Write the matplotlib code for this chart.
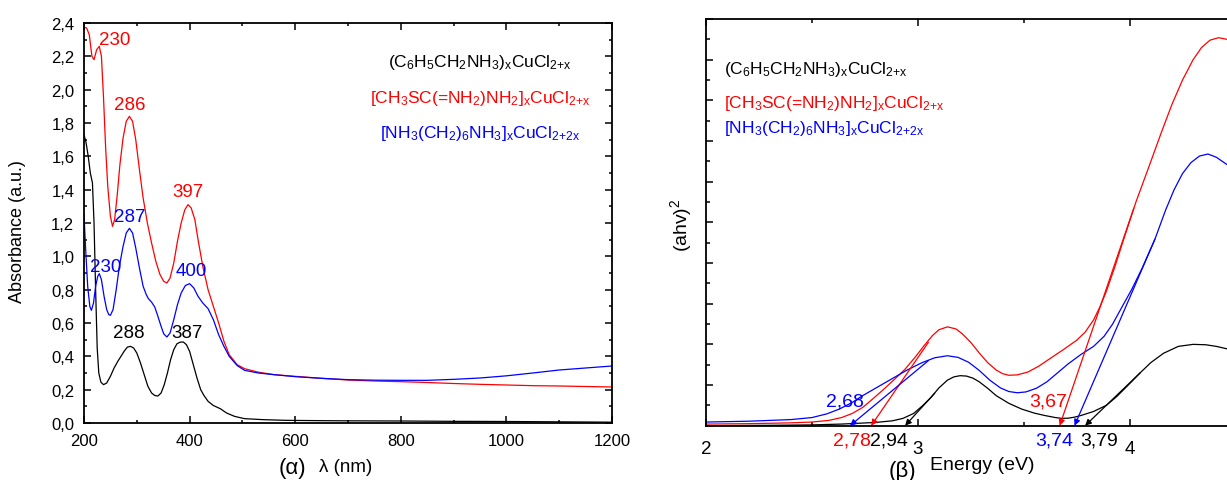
import matplotlib
matplotlib.use("Agg")
import matplotlib.pyplot as plt
from matplotlib.ticker import MultipleLocator, FuncFormatter

plt.rcParams['font.family'] = ['Liberation Sans', 'DejaVu Sans']
plt.rcParams['mathtext.default'] = 'regular'

# ---- (a) absorbance spectra ----
wl_red = [200, 205, 210, 215, 219, 224, 229, 233, 237, 241, 245, 250, 254, 258, 263, 268,
          274, 280, 286, 292, 298, 305, 312, 320, 328, 336, 344, 351, 357, 363, 370, 377,
          384, 391, 397, 403, 410, 416, 425, 435, 445, 455, 465, 475, 490, 504, 530, 560,
          600, 650, 700, 750, 800, 850, 900, 950, 1000, 1050, 1100, 1150, 1200]
abs_red = [2.375, 2.37, 2.33, 2.2, 2.18, 2.24, 2.26, 2.2, 1.95, 1.65, 1.42, 1.24, 1.18, 1.22,
           1.37, 1.55, 1.71, 1.81, 1.84, 1.81, 1.70, 1.52, 1.35, 1.2, 1.08, 0.97, 0.89, 0.85,
           0.84, 0.87, 0.96, 1.09, 1.2, 1.28, 1.31, 1.29, 1.22, 1.1, 0.94, 0.8, 0.7, 0.6, 0.49,
           0.41, 0.35, 0.326, 0.305, 0.29, 0.28, 0.268, 0.258, 0.252, 0.248, 0.243, 0.237,
           0.232, 0.228, 0.224, 0.222, 0.219, 0.216]

wl_blue = [200, 203, 207, 211, 214, 218, 222, 226, 229, 233, 238, 243, 247, 250, 255, 261,
           267, 274, 280, 286, 292, 298, 305, 312, 318, 322, 328, 334, 340, 346, 351, 357,
           363, 370, 377, 384, 392, 400, 408, 416, 425, 435, 445, 455, 465, 475, 490, 504,
           530, 560, 600, 650, 700, 750, 800, 850, 900, 950, 1000, 1050, 1100, 1150, 1200]
abs_blue = [1.25, 1.05, 0.82, 0.70, 0.676, 0.72, 0.82, 0.88, 0.896, 0.86, 0.76, 0.68, 0.65,
            0.646, 0.68, 0.8, 0.94, 1.06, 1.14, 1.168, 1.14, 1.05, 0.93, 0.82, 0.77, 0.746,
            0.725, 0.696, 0.64, 0.58, 0.535, 0.516, 0.54, 0.62, 0.71, 0.78, 0.825, 0.836,
            0.81, 0.76, 0.72, 0.686, 0.62, 0.53, 0.46, 0.4, 0.345, 0.316, 0.3, 0.29, 0.278,
            0.268, 0.26, 0.257, 0.256, 0.256, 0.262, 0.27, 0.283, 0.3, 0.318, 0.33, 0.342]

wl_black = [200, 204, 208, 212, 216, 219, 222, 225, 228, 232, 237, 243, 250, 257, 264, 270,
            276, 282, 288, 294, 300, 307, 314, 321, 328, 334, 340, 346, 352, 358, 364, 370,
            376, 382, 388, 394, 400, 407, 414, 421, 427, 435, 445, 458, 470, 485, 504, 540,
            582, 650, 700, 800, 900, 1000, 1100, 1200]
abs_black = [1.73, 1.68, 1.6, 1.5, 1.44, 1.2, 0.8, 0.45, 0.3, 0.245, 0.23, 0.24, 0.28, 0.33,
             0.37, 0.4, 0.43, 0.455, 0.46, 0.45, 0.42, 0.36, 0.29, 0.22, 0.18, 0.165, 0.162,
             0.18, 0.23, 0.3, 0.38, 0.44, 0.475, 0.485, 0.486, 0.47, 0.43, 0.35, 0.27, 0.2,
             0.166, 0.13, 0.105, 0.086, 0.06, 0.04, 0.026, 0.02, 0.016, 0.014, 0.013, 0.012,
             0.01, 0.009, 0.007, 0.005]

# ---- (b) Tauc plot ----
e_red = [2.0, 2.2, 2.4, 2.5, 2.58, 2.64, 2.69, 2.74, 2.79, 2.84, 2.89, 2.94, 2.99, 3.03,
         3.07, 3.1, 3.14, 3.18, 3.21, 3.25, 3.29, 3.33, 3.37, 3.4, 3.43, 3.47, 3.52, 3.57,
         3.63, 3.69, 3.75, 3.79, 3.83, 3.86, 3.89, 3.93, 3.97, 4.03, 4.09, 4.15, 4.2, 4.25,
         4.3, 4.34, 4.38, 4.42, 4.46]
t_red = [0.04, 0.05, 0.07, 0.09, 0.13, 0.2, 0.3, 0.45, 0.67, 0.9, 1.14, 1.39, 1.7, 1.97,
         2.22, 2.36, 2.43, 2.38, 2.26, 2.05, 1.79, 1.55, 1.37, 1.28, 1.24, 1.25, 1.32, 1.46,
         1.67, 1.88, 2.1, 2.3, 2.6, 2.92, 3.3, 3.9, 4.55, 5.5, 6.35, 7.21, 7.9, 8.5, 9.0, 9.3,
         9.48, 9.54, 9.5]

e_blue = [2.0, 2.2, 2.4, 2.5, 2.57, 2.63, 2.69, 2.74, 2.81, 2.88, 2.95, 3.02, 3.08, 3.14,
          3.19, 3.24, 3.29, 3.34, 3.39, 3.43, 3.47, 3.51, 3.56, 3.61, 3.66, 3.71, 3.77, 3.83,
          3.88, 3.92, 3.96, 4.01, 4.06, 4.12, 4.17, 4.21, 4.25, 4.29, 4.33, 4.37, 4.41, 4.46]
t_blue = [0.09, 0.11, 0.15, 0.2, 0.29, 0.41, 0.57, 0.74, 0.95, 1.16, 1.37, 1.55, 1.67, 1.72,
          1.68, 1.56, 1.36, 1.12, 0.93, 0.84, 0.81, 0.83, 0.92, 1.08, 1.3, 1.52, 1.75, 1.95,
          2.2, 2.5, 2.88, 3.35, 3.88, 4.59, 5.3, 5.8, 6.2, 6.47, 6.63, 6.68, 6.6, 6.42]

e_black = [2.0, 2.3, 2.5, 2.64, 2.8, 2.88, 2.93, 2.98, 3.02, 3.06, 3.1, 3.14, 3.17, 3.2,
           3.23, 3.26, 3.29, 3.33, 3.37, 3.43, 3.49, 3.55, 3.6, 3.65, 3.68, 3.71, 3.74, 3.77,
           3.83, 3.89, 3.94, 3.99, 4.05, 4.1, 4.16, 4.23, 4.3, 4.36, 4.41, 4.46]
t_black = [0.0, 0.01, 0.02, 0.04, 0.08, 0.12, 0.18, 0.3, 0.48, 0.68, 0.93, 1.12, 1.2, 1.23,
           1.22, 1.17, 1.08, 0.92, 0.74, 0.55, 0.41, 0.31, 0.25, 0.2, 0.18, 0.185, 0.21, 0.25,
           0.35, 0.5, 0.72, 0.98, 1.3, 1.55, 1.78, 1.95, 2.0, 1.99, 1.95, 1.89]

# tangents: (upper point energy, upper point value, band-gap intercept)
tangents = {
    'red': [(3.05, 2.05, 2.78), (4.02, 5.35, 3.67)],
    'blue': [(3.05, 1.6, 2.68), (4.12, 4.59, 3.74)],
    'black': [(3.08, 0.8, 2.94), (4.05, 1.3, 3.79)],
}

legend_labels = [
    (r'(C$_6$H$_5$CH$_2$NH$_3$)$_x$CuCl$_{2{+}x}$', 'black'),
    (r'[CH$_3$SC(=NH$_2$)NH$_2$]$_x$CuCl$_{2{+}x}$', 'red'),
    (r'[NH$_3$(CH$_2$)$_6$NH$_3$]$_x$CuCl$_{2{+}2x}$', 'blue'),
]

W, H = 1227, 481
fig = plt.figure(figsize=(W / 100, H / 100), dpi=100)


def fx(px):
    return px / W


def fy(py):
    return 1 - py / H


comma = FuncFormatter(lambda v, pos: f"{v:.1f}".replace('.', ','))

# left panel
ax1 = fig.add_axes([fx(84), fy(424), fx(612) - fx(84), fy(24) - fy(424)])
ax1.plot(wl_black, abs_black, color='black', lw=0.9)
ax1.plot(wl_red, abs_red, color='#ff0000', lw=0.9)
ax1.plot(wl_blue, abs_blue, color='#0000ff', lw=0.9)
ax1.set_xlim(200, 1200)
ax1.set_ylim(0, 2.4)
ax1.xaxis.set_major_locator(MultipleLocator(200))
ax1.xaxis.set_minor_locator(MultipleLocator(100))
ax1.yaxis.set_major_locator(MultipleLocator(0.2))
ax1.yaxis.set_minor_locator(MultipleLocator(0.1))
ax1.yaxis.set_major_formatter(comma)
ax1.tick_params(which='both', direction='in', top=True, right=True, width=1.1,
                labelsize=12, pad=7)
ax1.tick_params(which='major', length=5)
ax1.tick_params(which='minor', length=2.5)
for s in ax1.spines.values():
    s.set_linewidth(1.3)

peak_fs = 13.5
ax1.text(229, 2.30, '230', color='#ff0000', fontsize=peak_fs, ha='left', va='center')
ax1.text(286, 1.91, '286', color='#ff0000', fontsize=peak_fs, ha='center', va='center')
ax1.text(397, 1.39, '397', color='#ff0000', fontsize=peak_fs, ha='center', va='center')
ax1.text(287, 1.24, '287', color='#0000ff', fontsize=peak_fs, ha='center', va='center')
ax1.text(212, 0.94, '230', color='#0000ff', fontsize=peak_fs, ha='left', va='center')
ax1.text(404, 0.915, '400', color='#0000ff', fontsize=peak_fs, ha='center', va='center')
ax1.text(284, 0.54, '288', color='black', fontsize=peak_fs, ha='center', va='center')
ax1.text(395, 0.545, '387', color='black', fontsize=peak_fs, ha='center', va='center')

for (txt, c), base in zip(legend_labels, [66.7, 103, 138]):
    fig.text(fx(480), fy(base), txt, color=c, fontsize=12.5, ha='center', va='baseline')

fig.text(fx(18), fy(232), 'Absorbance (a.u.)', rotation=90, fontsize=13,
         ha='center', va='center')
fig.text(fx(292), fy(469), '(α)', fontsize=16, ha='center', va='center')
fig.text(fx(346), fy(468), 'λ (nm)', fontsize=13.5, ha='center', va='center')

# right panel (cut by the figure edge)
ax2 = fig.add_axes([fx(706), fy(426.7), 1 - fx(706), fy(20) - fy(426.7)])
ax2.plot(e_black, t_black, color='black', lw=0.9)
ax2.plot(e_red, t_red, color='#ff0000', lw=0.9)
ax2.plot(e_blue, t_blue, color='#0000ff', lw=0.9)
colors = {'red': '#ff0000', 'blue': '#0000ff', 'black': 'black'}
for name, segs in tangents.items():
    for xt, yt, xi in segs:
        ax2.annotate('', xy=(xi, 0), xytext=(xt, yt),
                     arrowprops=dict(arrowstyle='-|>', color=colors[name], lw=0.9,
                                     mutation_scale=9, shrinkA=0, shrinkB=0))
ax2.set_xlim(2, 4.46)
ax2.set_ylim(0, 10)
ax2.xaxis.set_major_locator(MultipleLocator(1))
ax2.xaxis.set_minor_locator(MultipleLocator(0.5))
ax2.yaxis.set_major_locator(MultipleLocator(1))
ax2.yaxis.set_minor_locator(MultipleLocator(0.5))
ax2.spines['right'].set_visible(False)
ax2.tick_params(which='both', direction='in', top=True, right=False, width=1.1,
                labelsize=13.5, pad=10)
ax2.tick_params(which='major', length=5)
ax2.tick_params(which='minor', length=3)
ax2.tick_params(axis='y', labelleft=False)
for s in ax2.spines.values():
    s.set_linewidth(1.3)

gap_fs = 14
ax2.text(2.655, 0.6, '2,68', color='#0000ff', fontsize=gap_fs, ha='center', va='center')
ax2.text(3.615, 0.6, '3,67', color='#ff0000', fontsize=gap_fs, ha='center', va='center')
below = ax2.get_xaxis_transform()
ax2.text(2.78, -0.035, '2,78', color='#ff0000', fontsize=gap_fs, ha='right', va='center',
         transform=below)
ax2.text(2.865, -0.035, '2,94', color='black', fontsize=gap_fs, ha='center', va='center',
         transform=below)
ax2.text(3.735, -0.035, '3,74', color='#0000ff', fontsize=gap_fs, ha='right', va='center',
         transform=below)
ax2.text(3.765, -0.035, '3,79', color='black', fontsize=gap_fs, ha='left', va='center',
         transform=below)

for (txt, c), base in zip(legend_labels, [74, 108, 133]):
    fig.text(fx(724), fy(base), txt, color=c, fontsize=12.5, ha='left', va='baseline')

fig.text(fx(681), fy(225), '(ahv)$^2$', rotation=90, fontsize=14, ha='center', va='center')
fig.text(fx(902), fy(472), '(β)', fontsize=16, ha='center', va='center')
fig.text(fx(982), fy(466), 'Energy (eV)', fontsize=14, ha='center', va='center')

fig.savefig('out.png', dpi=100)
